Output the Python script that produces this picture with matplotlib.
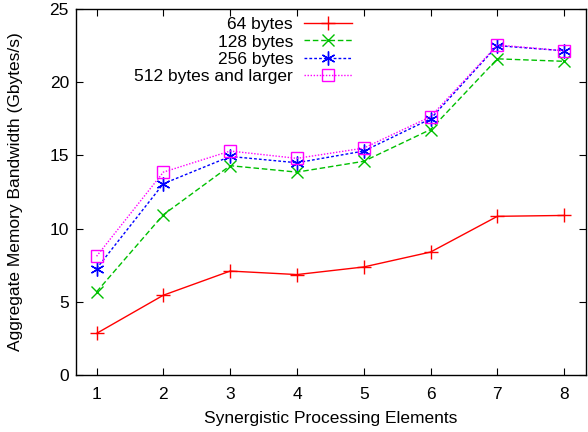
import matplotlib.pyplot as plt

plt.rcParams['font.family'] = ['Liberation Sans', 'DejaVu Sans']

# ----------------------
# DATA
# ----------------------
spes = [1, 2, 3, 4, 5, 6, 7, 8]
bw_64 = [2.84, 5.45, 7.1, 6.86, 7.38, 8.4, 10.84, 10.9]
bw_128 = [5.68, 10.95, 14.3, 13.86, 14.6, 16.77, 21.6, 21.43]
bw_256 = [7.27, 13.07, 14.93, 14.5, 15.3, 17.5, 22.5, 22.15]
bw_512 = [8.11, 13.86, 15.3, 14.8, 15.5, 17.65, 22.55, 22.15]
labels = ["64 bytes", "128 bytes", "256 bytes", "512 bytes and larger"]

FS = 12.5

fig = plt.figure(figsize=(5.88, 4.32), dpi=100)
ax = fig.add_axes([0.129, 0.132, 0.868, 0.847])

ax.plot(spes, bw_64, color="#ff0000", linestyle="-", marker="+", markersize=10,
        linewidth=1, label=labels[0])
ax.plot(spes, bw_128, color="#00c000", linestyle=(0, (4, 2)), marker="x", markersize=8,
        linewidth=1, label=labels[1])
ax.plot(spes, bw_256, color="#0000ff", linestyle=(0, (2, 1.5)), marker=(6, 2, 0), markersize=10,
        linewidth=1, label=labels[2])
ax.plot(spes, bw_512, color="#ff00ff", linestyle=(0, (1, 1.2)), marker="s", markersize=8,
        markerfacecolor="none", linewidth=1, label=labels[3])

ax.set_xlim(0.69, 8.33)
ax.set_ylim(0, 25)
ax.set_xticks(spes)
ax.set_yticks([0, 5, 10, 15, 20, 25])
ax.tick_params(direction="in", top=True, right=True, labelsize=FS, length=5)
ax.tick_params(axis="x", pad=9)
ax.tick_params(axis="y", pad=5)
for s in ax.spines.values():
    s.set_linewidth(1)

ax.set_xlabel("Synergistic Processing Elements", fontsize=FS, labelpad=6)
ax.set_ylabel("Aggregate Memory Bandwidth (Gbytes/s)", fontsize=FS)
ax.yaxis.set_label_coords(-0.104, 0.5)

leg = ax.legend(loc="upper right", bbox_to_anchor=(0.541, 0.978), frameon=False,
                markerfirst=False, fontsize=FS, handlelength=2.76, labelspacing=0.12,
                handletextpad=0.63, borderaxespad=0, borderpad=0)
leg._legend_box.align = "right"

fig.savefig("out.png", dpi=100)
